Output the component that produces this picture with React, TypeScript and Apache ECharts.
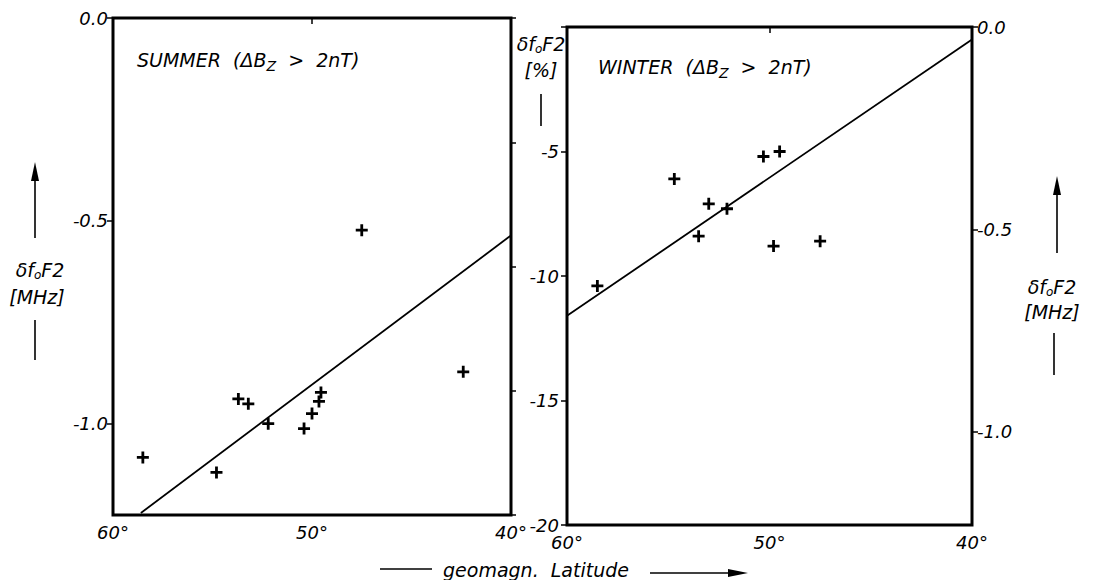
import React, { useEffect, useRef } from 'react';
import * as echarts from 'echarts';

// Tick values
const latInterval = 10;
const mhzTicks = [0, -0.5, -1.0];
const pctInterval = 5;

// Summer panel (MHz)
const summerLat = [58.5, 54.8, 53.7, 53.2, 52.2, 50.4, 50.0, 49.65, 49.55, 47.5, 42.4];
const summerVal = [-1.083, -1.12, -0.939, -0.951, -1.0, -1.012, -0.975, -0.945, -0.923, -0.523, -0.872];
const summerFitLat = [58.6, 40];
const summerFitVal = [-1.22, -0.536];

// Winter panel (%)
const winterLat = [58.5, 54.7, 53.5, 53.0, 52.1, 50.3, 49.5, 49.8, 47.5];
const winterPct = [-10.4, -6.1, -8.4, -7.1, -7.3, -5.2, -5.0, -8.8, -8.6];
const winterFitLat = [60, 40];
const winterFitPct = [-11.6, -0.5];

const FONT = 'DejaVu Sans';
const PLUS = 'path://M4.6,0h2.8v4.6h4.6v2.8h-4.6v4.6h-2.8v-4.6h-4.6v-2.8h4.6z';

const baseText = { fontFamily: FONT, fontStyle: 'italic', color: '#000', fontSize: 18 };

function xAxis(gridIndex: number) {
  return {
    type: 'value', gridIndex, min: 40, max: 60, interval: latInterval, inverse: true,
    axisLine: { show: false },
    splitLine: { show: false },
    axisTick: { show: true, inside: false, length: 6, lineStyle: { color: '#000', width: 1.5 } },
    axisLabel: { ...baseText, margin: 8, formatter: (v: number) => `${v}°` },
  };
}

export default function App() {
  const ref = useRef<HTMLDivElement>(null);
  useEffect(() => {
    if (!ref.current) return;
    const chart = echarts.init(ref.current, null, { renderer: 'svg' });
    const tickStyle = { show: true, inside: false, length: 6, lineStyle: { color: '#000', width: 1.5 } };
    const sub = { fontFamily: FONT, fontStyle: 'italic', color: '#000', fontSize: 14, padding: [12, 0, 0, 0] };
    const t = { fontFamily: FONT, fontStyle: 'italic', color: '#000', fontSize: 19 };
    const lab = { fontFamily: FONT, fontStyle: 'italic', color: '#000', fontSize: 19 };
    const labSub = { fontFamily: FONT, fontStyle: 'italic', color: '#000', fontSize: 12, padding: [9, 0, 0, 0] };
    const line = (x1: number, y1: number, x2: number, y2: number, w = 1.6) => ({
      type: 'line', shape: { x1, y1, x2, y2 }, style: { stroke: '#000', lineWidth: w },
    });
    const tri = (points: number[][]) => ({ type: 'polygon', shape: { points }, style: { fill: '#000' } });
    const deltaLabel = (x: number, y: number) => ({
      type: 'text', x, y,
      style: {
        text: '{a|δf}{s|o}{a|F2}', align: 'center', verticalAlign: 'middle',
        rich: { a: lab, s: labSub },
      },
    });
    const plainLabel = (x: number, y: number, text: string) => ({
      type: 'text', x, y,
      style: { text, align: 'center', verticalAlign: 'middle', fill: '#000', font: `italic 19px "${FONT}"` },
    });

    chart.setOption({
      animation: false,
      backgroundColor: '#fff',
      textStyle: { fontFamily: FONT },
      grid: [
        { left: 113, top: 18, width: 398, height: 497, show: true, borderColor: '#000', borderWidth: 3 },
        { left: 567, top: 27, width: 405, height: 498, show: true, borderColor: '#000', borderWidth: 3 },
      ],
      xAxis: [xAxis(0), xAxis(1)],
      yAxis: [
        {
          type: 'value', gridIndex: 0, min: -1.225, max: 0, position: 'left',
          axisLine: { show: false }, splitLine: { show: false },
          axisTick: { ...tickStyle, customValues: mhzTicks },
          axisLabel: { ...baseText, margin: 5, customValues: mhzTicks, formatter: (v: number) => v.toFixed(1) },
        },
        {
          type: 'value', gridIndex: 0, min: -20, max: 0, interval: pctInterval, position: 'right',
          axisLine: { show: false }, splitLine: { show: false },
          axisTick: { ...tickStyle, length: 5 },
          axisLabel: { show: false },
        },
        {
          type: 'value', gridIndex: 1, min: -20, max: 0, interval: pctInterval, position: 'left',
          axisLine: { show: false }, splitLine: { show: false },
          axisTick: tickStyle,
          axisLabel: { ...baseText, margin: 8, formatter: (v: number) => (v === 0 ? '' : String(v)) },
        },
        {
          type: 'value', gridIndex: 1, min: -1.23, max: 0, position: 'right',
          axisLine: { show: false }, splitLine: { show: false },
          axisTick: { ...tickStyle, customValues: mhzTicks },
          axisLabel: { ...baseText, margin: 5, customValues: mhzTicks, formatter: (v: number) => v.toFixed(1) },
        },
      ],
      series: [
        {
          type: 'scatter', xAxisIndex: 0, yAxisIndex: 0, symbol: PLUS, symbolSize: 12,
          itemStyle: { color: '#000', opacity: 1 },
          data: summerLat.map((x, i) => [x, summerVal[i]]),
        },
        {
          type: 'line', xAxisIndex: 0, yAxisIndex: 0, showSymbol: false, symbol: 'none',
          lineStyle: { color: '#000', width: 1.8 },
          data: summerFitLat.map((x, i) => [x, summerFitVal[i]]),
        },
        {
          type: 'scatter', xAxisIndex: 1, yAxisIndex: 2, symbol: PLUS, symbolSize: 12,
          itemStyle: { color: '#000', opacity: 1 },
          data: winterLat.map((x, i) => [x, winterPct[i]]),
        },
        {
          type: 'line', xAxisIndex: 1, yAxisIndex: 2, showSymbol: false, symbol: 'none',
          lineStyle: { color: '#000', width: 1.8 },
          data: winterFitLat.map((x, i) => [x, winterFitPct[i]]),
        },
      ],
      graphic: [
        {
          type: 'text', left: 137, top: 50,
          style: { text: '{t|SUMMER  (ΔB}{s|Z}{t|  >  2nT)}', rich: { t, s: sub } },
        },
        {
          type: 'text', left: 598, top: 57,
          style: { text: '{t|WINTER  (ΔB}{s|Z}{t|  >  2nT)}', rich: { t, s: sub } },
        },
        // left axis title
        line(35, 178, 35, 238),
        tri([[35, 162], [31, 181], [39, 181]]),
        deltaLabel(40, 270),
        plainLabel(37, 297, '[MHz]'),
        line(35, 320, 35, 360),
        // middle axis title
        deltaLabel(541, 44),
        plainLabel(541, 70, '[%]'),
        line(541, 94, 541, 126),
        // right axis title
        line(1057, 192, 1057, 253),
        tri([[1057, 176], [1053, 195], [1061, 195]]),
        deltaLabel(1052, 287),
        plainLabel(1052, 312, '[MHz]'),
        line(1054, 333, 1054, 375),
        // bottom axis title
        line(380, 569, 432, 569),
        plainLabel(536, 570, 'geomagn.  Latitude'),
        line(650, 573, 735, 573),
        tri([[748, 573], [728, 569], [728, 577]]),
      ],
    });
    return () => chart.dispose();
  }, []);
  return <div ref={ref} style={{ position: 'fixed', left: 0, top: 0, width: 1096, height: 580 }} />;
}
